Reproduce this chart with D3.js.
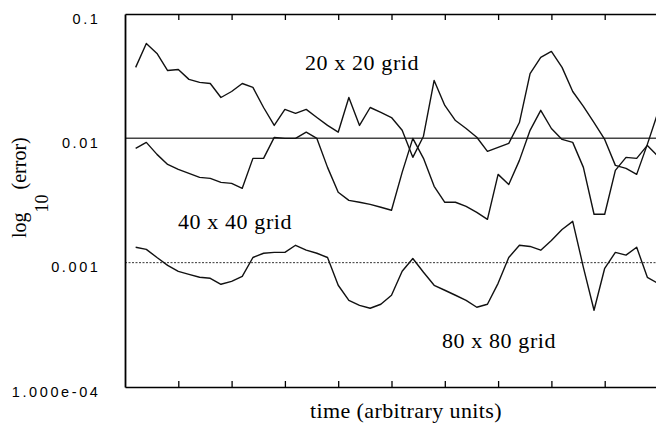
<!DOCTYPE html>
<html>
<head>
<meta charset="utf-8">
<script src="https://cdn.jsdelivr.net/npm/d3@7"></script>
<style>
  html, body { margin: 0; padding: 0; background: #fff; }
  svg { display: block; }
</style>
</head>
<body>
<svg id="chart" width="656" height="424"></svg>
<script>
// ---- data ----
const time = [0.2,0.4,0.6,0.8,1.0,1.2,1.4,1.6,1.8,2.0,
              2.2,2.4,2.6,2.8,3.0,3.2,3.4,3.6,3.8,4.0,
              4.2,4.4,4.6,4.8,5.0,5.2,5.4,5.6,5.8,6.0,
              6.2,6.4,6.6,6.8,7.0,7.2,7.4,7.6,7.8,8.0,
              8.2,8.4,8.6,8.8,9.0,9.2,9.4,9.6,9.8,10.0];

const err20 = [0.0372,0.0579,0.0482,0.0351,0.0358,0.0298,0.0282,0.0276,0.0213,0.0238,
               0.0276,0.0257,0.0177,0.0127,0.0171,0.0159,0.0171,0.0147,0.0127,0.0112,
               0.0213,0.0127,0.0177,0.0162,0.0147,0.0116,0.00703,0.0104,0.0292,0.0184,
               0.0139,0.0120,0.0102,0.00785,0.00846,0.00911,0.0134,0.0332,0.0447,0.0500,
               0.0372,0.0238,0.0181,0.0134,0.0098,0.00606,0.00573,0.00513,0.00894,0.0162];

const err40 = [0.00830,0.00928,0.00743,0.00617,0.00563,0.00523,0.00485,0.00476,0.00442,0.00434,
               0.00396,0.00690,0.00690,0.01017,0.00999,0.00999,0.0112,0.00999,0.00584,0.00368,
               0.00317,0.00306,0.00294,0.00279,0.00264,0.00532,0.00999,0.00690,0.00411,0.00306,
               0.00306,0.00284,0.00254,0.00223,0.00513,0.00426,0.00665,0.0116,0.0168,0.0120,
               0.0098,0.00928,0.00584,0.00245,0.00245,0.00553,0.00703,0.00690,0.00877,0.00716];

const err80 = [0.00133,0.00128,0.00110,0.000952,0.000852,0.000806,0.000763,0.000749,0.000670,0.000708,
               0.000777,0.00110,0.00119,0.00121,0.00121,0.00138,0.00126,0.00119,0.00110,0.000658,
               0.000498,0.000454,0.000430,0.000463,0.000547,0.000852,0.00108,0.000837,0.000658,0.000600,
               0.000547,0.000498,0.000438,0.000463,0.000682,0.00110,0.00138,0.00135,0.00126,0.00151,
               0.00185,0.00215,0.000918,0.000414,0.000901,0.00121,0.00115,0.00133,0.000763,0.000682];

const seriesNames = ["20 x 20 grid", "40 x 40 grid", "80 x 80 grid"];
const yTickValues = [0.1, 0.01, 0.001, 0.0001];
const yTickLabels = ["0.1", "0.01", "0.001", "1.000e-04"];
const xTickValues = [1,2,3,4,5,6,7,8,9];
const refSolid = 0.01;
const refDotted = 0.001;
const xTitle = "time (arbitrary units)";

// ---- layout ----
const svg = d3.select("#chart");
const mLeft = 125, mRight = 658, mTop = 14, mBottom = 387;

const x = d3.scaleLinear().domain([0, 10]).range([mLeft, mRight]);
const y = d3.scaleLog().domain([0.0001, 0.1]).range([mBottom, mTop]);

const serif = "'Liberation Serif', 'Times New Roman', serif";
const sans = "'Liberation Sans', Arial, sans-serif";

// reference lines
svg.append("line")
  .attr("x1", x(0)).attr("x2", x(10))
  .attr("y1", y(refSolid)).attr("y2", y(refSolid))
  .attr("stroke", "#444").attr("stroke-width", 1.5);
svg.append("line")
  .attr("x1", x(0)).attr("x2", x(10))
  .attr("y1", y(refDotted)).attr("y2", y(refDotted))
  .attr("stroke", "#333").attr("stroke-width", 1)
  .attr("stroke-dasharray", "2,1.5");

// series lines
const lineGen = d3.line()
  .x((d, i) => x(time[i]))
  .y(d => y(d));

[err20, err40, err80].forEach(s => {
  svg.append("path")
    .datum(s)
    .attr("d", lineGen)
    .attr("fill", "none")
    .attr("stroke", "#111")
    .attr("stroke-width", 1.4)
    .attr("stroke-linejoin", "round");
});

// frame: top & bottom axes with inward ticks
const axB = svg.append("g").attr("transform", `translate(0,${mBottom})`)
  .call(d3.axisBottom(x).tickValues(xTickValues).tickSizeInner(-6).tickSizeOuter(0).tickFormat(""));
const axT = svg.append("g").attr("transform", `translate(0,${mTop})`)
  .call(d3.axisTop(x).tickValues(xTickValues).tickSizeInner(-6).tickSizeOuter(0).tickFormat(""));
[axB, axT].forEach(g => {
  g.select(".domain").attr("stroke", "#000").attr("stroke-width", 1.6);
  g.selectAll(".tick line").attr("stroke", "#000").attr("stroke-width", 1.3);
});

// left axis
const axL = svg.append("g").attr("transform", `translate(${mLeft},0)`)
  .call(d3.axisLeft(y).tickValues(yTickValues).tickSize(0).tickPadding(24.5)
        .tickFormat((d, i) => yTickLabels[i]));
axL.select(".domain").attr("stroke", "#000").attr("stroke-width", 1.8);
axL.selectAll(".tick text")
  .attr("font-family", sans)
  .attr("font-size", 14.5)
  .attr("letter-spacing", "2.6px")
  .attr("fill", "#000")
  .attr("dy", "0.62em");

// series labels
const labelPos = [[305, 70], [178, 229], [442, 348]];
seriesNames.forEach((name, i) => {
  svg.append("text")
    .attr("x", labelPos[i][0]).attr("y", labelPos[i][1])
    .attr("font-family", serif).attr("font-size", 22)
    .attr("letter-spacing", "0.6px")
    .attr("fill", "#000")
    .text(name);
});

// x title
svg.append("text")
  .attr("x", 406).attr("y", 418)
  .attr("text-anchor", "middle")
  .attr("font-family", serif).attr("font-size", 22)
  .attr("letter-spacing", "0.4px")
  .attr("fill", "#000")
  .text(xTitle);

// y title: log10(error)
const yt = svg.append("text")
  .attr("transform", "translate(26,238) rotate(-90)")
  .attr("font-family", serif).attr("font-size", 20)
  .attr("fill", "#000");
yt.append("tspan").text("log");
yt.append("tspan").attr("dy", 22).attr("font-size", 18).text("10");
yt.append("tspan").attr("dy", -22).text(" (error)");
</script>
</body>
</html>
